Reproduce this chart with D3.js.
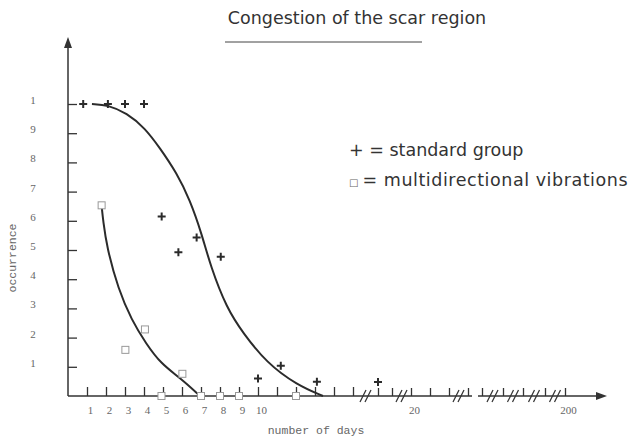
<!DOCTYPE html>
<html>
<head>
<meta charset="utf-8">
<script src="https://cdnjs.cloudflare.com/ajax/libs/d3/7.8.5/d3.min.js"></script>
<style>
  body { margin: 0; background: #fff; }
  .tick text { font-family: "Liberation Serif", serif; font-size: 11px; fill: #666; }
  .tick line { stroke: #333; stroke-width: 1.3; }
</style>
</head>
<body>
<div id="chart"></div>
<script>
// x axis ticks (days), the axis is broken after day 15
var xTickDays = [1, 2, 3, 4, 5, 6, 7, 8, 9, 10, 11, 12, 13, 14, 15, 17, 18, 20, 21, 22, 30, 40, 60, 90, 120, 200];
var xLabelDays = [1, 2, 3, 4, 5, 6, 7, 8, 9, 10, 20, 200];
var breakAfter = [15, 18, 22, 40, 60, 90, 120];
var lineGapAfter = [30];

// y axis ticks, the top "10" is printed as "1"
var yTickValues = [1, 2, 3, 4, 5, 6, 7, 8, 9, 10];
var yTickLabels = ["1", "2", "3", "4", "5", "6", "7", "8", "9", "1"];

// + = standard group
var standardDays = [0.8, 2.1, 3, 4, 4.93, 5.81, 6.77, 8.04, 10, 11.2, 13.1, 17];
var standardValues = [10, 10, 10, 10, 6.15, 4.92, 5.43, 4.77, 0.6, 1.04, 0.49, 0.48];

// squares = multidirectional vibrations
var vibDays = [1.77, 3.02, 4.05, 6.02, 4.92, 7, 8, 9, 12];
var vibValues = [6.53, 1.58, 2.28, 0.76, 0, 0, 0, 0, 0];

// hand drawn fitted curves
var standardCurveDays = [1.26, 2.1, 3.09, 4.05, 4.84, 5.72, 6.42, 7.04, 7.5, 8.35, 9.21, 10.46, 12.04, 13.42];
var standardCurveValues = [10, 9.97, 9.69, 9.18, 8.49, 7.64, 6.71, 5.55, 4.45, 3.01, 2.16, 1.13, 0.38, 0];
var vibCurveDays = [1.77, 1.85, 2.04, 2.65, 3.35, 4.1, 4.9, 5.9, 6.95];
var vibCurveValues = [6.5, 6.0, 5.1, 3.65, 2.6, 1.8, 1.1, 0.62, 0];

var width = 630, height = 442;
var ink = "#2b2b2b";

var svg = d3.select("#chart").append("svg")
    .attr("width", width)
    .attr("height", height);

// piecewise scale for the broken axis
var x = d3.scaleLinear()
    .domain([0, 15, 17, 18, 20, 22, 30, 40, 60, 90, 120, 200])
    .range([68, 353, 378, 392, 411, 449, 468, 482, 503, 523, 545, 565]);

var y = d3.scaleLinear()
    .domain([0, 10])
    .range([396, 104]);

// title
svg.append("text")
    .attr("x", 357)
    .attr("y", 24)
    .attr("text-anchor", "middle")
    .style("font-family", "DejaVu Sans, sans-serif")
    .style("font-size", "17.5px")
    .style("fill", "#333")
    .text("Congestion of the scar region");

svg.append("line")
    .attr("x1", 225).attr("x2", 422)
    .attr("y1", 42).attr("y2", 42)
    .style("stroke", "#444")
    .style("stroke-width", 1);

// x axis
var xAxis = svg.append("g")
    .attr("class", "x-axis")
    .attr("transform", "translate(0," + y(0) + ")")
    .call(d3.axisBottom(x)
        .tickValues(xTickDays)
        .tickSizeInner(-9)
        .tickSizeOuter(0)
        .tickPadding(10)
        .tickFormat(function(d) { return xLabelDays.indexOf(d) >= 0 ? d : ""; }));
xAxis.select(".domain").remove();
xAxis.selectAll(".tick text").attr("dx", 3);
// ticks past the first break are a bit shorter
xAxis.selectAll(".tick line")
    .filter(function(d) { return d > 15; })
    .attr("y2", -8);

// axis line with a small gap and an arrow
var gapX = lineGapAfter.map(function(d) {
    var next = xTickDays[xTickDays.indexOf(d) + 1];
    return (x(d) + x(next)) / 2;
});
var segStarts = [68].concat(gapX.map(function(g) { return g + 3; }));
var segEnds = gapX.map(function(g) { return g - 3; }).concat([600]);
svg.selectAll(".xline")
    .data(segStarts)
    .enter().append("line")
    .attr("class", "xline")
    .attr("x1", function(d) { return d; })
    .attr("x2", function(d, i) { return segEnds[i]; })
    .attr("y1", y(0)).attr("y2", y(0))
    .style("stroke", "#333")
    .style("stroke-width", 1.5);
svg.append("path")
    .attr("d", "M607," + y(0) + "L596," + (y(0) - 4) + "L596," + (y(0) + 4) + "Z")
    .style("fill", "#333");

// break marks
breakAfter.forEach(function(b) {
    var next = xTickDays[xTickDays.indexOf(b) + 1];
    var cx = (x(b) + x(next)) / 2;
    [-2.5, 2.5].forEach(function(off) {
        svg.append("line")
            .attr("x1", cx + off - 3).attr("y1", y(0) + 6)
            .attr("x2", cx + off + 3).attr("y2", y(0) - 6)
            .style("stroke", "#333")
            .style("stroke-width", 1.2);
    });
});

// y axis
var yAxis = svg.append("g")
    .attr("transform", "translate(68,0)")
    .call(d3.axisLeft(y)
        .tickValues(yTickValues)
        .tickSizeInner(-9)
        .tickSizeOuter(0)
        .tickFormat(function(d, i) { return yTickLabels[i]; }));
yAxis.select(".domain").remove();
yAxis.selectAll(".tick text")
    .attr("x", -35)
    .attr("dy", "-0.05em")
    .attr("text-anchor", "middle");

svg.append("line")
    .attr("x1", 68).attr("x2", 68)
    .attr("y1", y(0)).attr("y2", 46)
    .style("stroke", "#333")
    .style("stroke-width", 1.5);
svg.append("path")
    .attr("d", "M68,37L64,48L72,48Z")
    .style("fill", "#333");

// axis titles
svg.append("text")
    .attr("x", 316)
    .attr("y", 434)
    .attr("text-anchor", "middle")
    .style("font-family", "Liberation Mono, monospace")
    .style("font-size", "11.5px")
    .style("fill", "#666")
    .text("number of days");

svg.append("text")
    .attr("transform", "translate(16,258) rotate(-90)")
    .attr("text-anchor", "middle")
    .style("font-family", "Liberation Mono, monospace")
    .style("font-size", "11.5px")
    .style("fill", "#666")
    .text("occurrence");

// fitted curves
var line = d3.line()
    .x(function(d) { return x(d[0]); })
    .y(function(d) { return y(d[1]); })
    .curve(d3.curveBasis);

svg.append("path")
    .datum(d3.zip(standardCurveDays, standardCurveValues))
    .attr("d", line)
    .style("fill", "none")
    .style("stroke", ink)
    .style("stroke-width", 2);

svg.append("path")
    .datum(d3.zip(vibCurveDays, vibCurveValues))
    .attr("d", line)
    .style("fill", "none")
    .style("stroke", ink)
    .style("stroke-width", 2);

// squares
svg.selectAll(".vib")
    .data(d3.zip(vibDays, vibValues))
    .enter().append("rect")
    .attr("class", "vib")
    .attr("x", function(d) { return x(d[0]) - 3.5; })
    .attr("y", function(d) { return y(d[1]) - 3.5; })
    .attr("width", 7)
    .attr("height", 7)
    .style("fill", "#fff")
    .style("stroke", "#999")
    .style("stroke-width", 1);

// plus markers
svg.selectAll(".std")
    .data(d3.zip(standardDays, standardValues))
    .enter().append("path")
    .attr("class", "std")
    .attr("transform", function(d) { return "translate(" + x(d[0]) + "," + y(d[1]) + ")"; })
    .attr("d", "M-4,0H4M0,-4V4")
    .style("stroke", ink)
    .style("stroke-width", 2);

// legend
var legend = svg.append("g")
    .style("font-family", "DejaVu Sans, sans-serif")
    .style("font-size", "17.5px")
    .style("fill", "#333");

legend.append("text")
    .attr("x", 349)
    .attr("y", 156)
    .text("+ = standard group");

var leg2 = legend.append("text")
    .attr("x", 349)
    .attr("y", 186);
leg2.append("tspan")
    .style("font-size", "10px")
    .style("fill", "#666")
    .text("\u25A1");
leg2.append("tspan")
    .attr("dx", 4)
    .style("letter-spacing", "0.55px")
    .text("= multidirectional vibrations");
</script>
</body>
</html>
